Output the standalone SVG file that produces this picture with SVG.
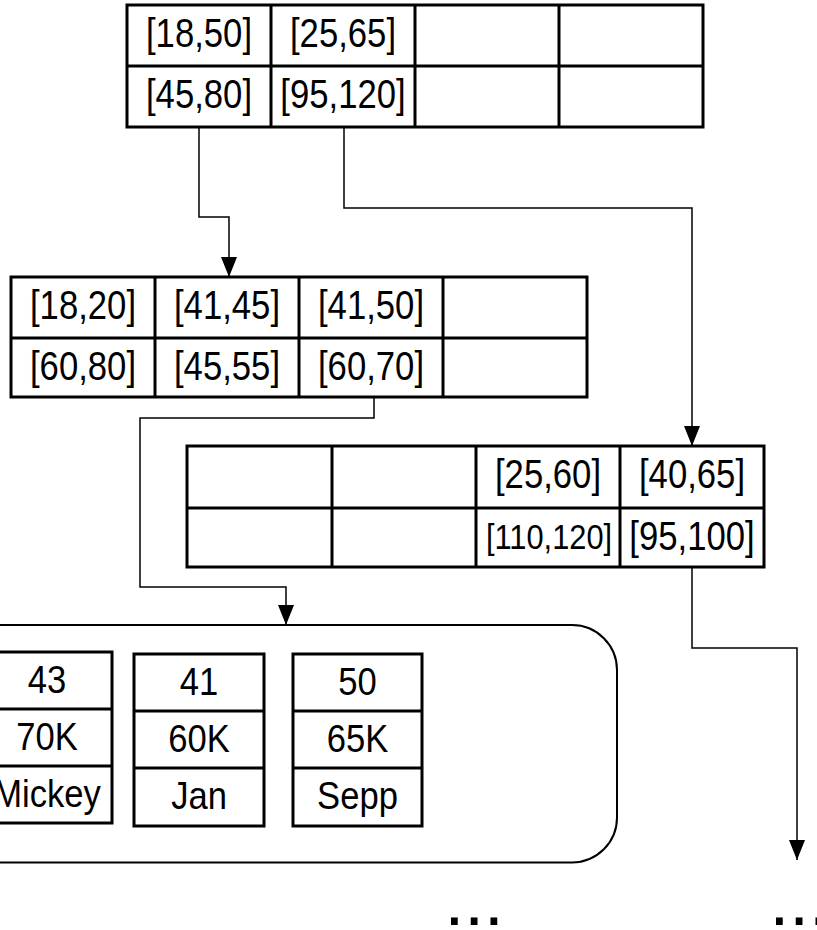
<svg xmlns="http://www.w3.org/2000/svg" width="817" height="930" viewBox="0 0 817 930">
  <style>
    .cell { fill: #fff; stroke: #000; stroke-width: 3; }
    .grid { stroke: #000; stroke-width: 3; fill: none; }
    .conn { stroke: #000; stroke-width: 1.5; fill: none; }
    .box  { fill: #fff; stroke: #000; stroke-width: 2; }
    .lbl  { font-family: "Liberation Sans", Arial, sans-serif; font-size: 41px; fill: #000; text-anchor: middle; }
    .lbl-s { font-family: "Liberation Sans", Arial, sans-serif; font-size: 35px; fill: #000; text-anchor: middle; }
    .rec  { font-family: "Liberation Sans", Arial, sans-serif; font-size: 38px; fill: #000; text-anchor: middle; }
    .dots { font-family: "Liberation Sans", Arial, sans-serif; font-size: 71px; fill: #000; }
  </style>
  <defs>
    <marker id="arrow" viewBox="0 -8 20 16" refX="20" refY="0" markerWidth="20" markerHeight="16" markerUnits="userSpaceOnUse" orient="auto">
      <path d="M0,-8 L20,0 L0,8 z" fill="#000"/>
    </marker>
  </defs>

  <!-- leaf page container -->
  <g id="leaf-page">
    <rect class="box" x="-100" y="625" width="717" height="237.5" rx="45" ry="45"/>
  </g>

  <!-- connectors -->
  <g id="connectors">
    <path class="conn" d="M199,127 V217 H229 V277" marker-end="url(#arrow)"/>
    <path class="conn" d="M344,127 V208 H692 V446" marker-end="url(#arrow)"/>
    <path class="conn" d="M374,397 V418 H140 V587 H286 V625" marker-end="url(#arrow)"/>
    <path class="conn" d="M692,567 V648 H797 V860" marker-end="url(#arrow)"/>
  </g>

  <!-- root node -->
  <g id="root-node">
    <rect class="cell" x="127" y="5" width="576" height="122"/>
    <path class="grid" d="M127,66 H703 M271,5 V127 M415,5 V127 M559,5 V127"/>
    <text class="lbl" transform="translate(199,47) scale(0.846,1)">[18,50]</text>
    <text class="lbl" transform="translate(343,47) scale(0.846,1)">[25,65]</text>
    <text class="lbl" transform="translate(199,108) scale(0.846,1)">[45,80]</text>
    <text class="lbl" transform="translate(343,108) scale(0.846,1)">[95,120]</text>
  </g>

  <!-- inner node, left -->
  <g id="inner-node-left">
    <rect class="cell" x="11" y="277" width="576" height="120"/>
    <path class="grid" d="M11,338 H587 M155,277 V397 M299,277 V397 M443,277 V397"/>
    <text class="lbl" transform="translate(83,319) scale(0.846,1)">[18,20]</text>
    <text class="lbl" transform="translate(227,319) scale(0.846,1)">[41,45]</text>
    <text class="lbl" transform="translate(371,319) scale(0.846,1)">[41,50]</text>
    <text class="lbl" transform="translate(83,380) scale(0.846,1)">[60,80]</text>
    <text class="lbl" transform="translate(227,380) scale(0.846,1)">[45,55]</text>
    <text class="lbl" transform="translate(371,380) scale(0.846,1)">[60,70]</text>
  </g>

  <!-- inner node, right -->
  <g id="inner-node-right">
    <rect class="cell" x="187" y="446" width="577" height="121"/>
    <path class="grid" d="M187,508 H764 M332,446 V567 M476,446 V567 M620,446 V567"/>
    <text class="lbl" transform="translate(548,488) scale(0.846,1)">[25,60]</text>
    <text class="lbl" transform="translate(692,488) scale(0.846,1)">[40,65]</text>
    <text class="lbl-s" transform="translate(549,549) scale(0.88,1)">[110,120]</text>
    <text class="lbl" transform="translate(692,550) scale(0.846,1)">[95,100]</text>
  </g>

  <!-- records -->
  <g id="record-mickey">
    <rect class="cell" x="-18" y="652" width="130" height="171"/>
    <path class="grid" d="M-18,709 H112 M-18,766 H112"/>
    <text class="rec" transform="translate(47,693) scale(0.91,1)">43</text>
    <text class="rec" transform="translate(47,750) scale(0.91,1)">70K</text>
    <text class="rec" transform="translate(47,807) scale(0.91,1)">Mickey</text>
  </g>
  <g id="record-jan">
    <rect class="cell" x="134" y="654" width="130" height="172"/>
    <path class="grid" d="M134,711 H264 M134,768 H264"/>
    <text class="rec" transform="translate(199,695) scale(0.91,1)">41</text>
    <text class="rec" transform="translate(199,752) scale(0.91,1)">60K</text>
    <text class="rec" transform="translate(199,809) scale(0.91,1)">Jan</text>
  </g>
  <g id="record-sepp">
    <rect class="cell" x="293" y="654" width="129" height="172"/>
    <path class="grid" d="M293,711 H422 M293,768 H422"/>
    <text class="rec" transform="translate(357.5,695) scale(0.91,1)">50</text>
    <text class="rec" transform="translate(357.5,752) scale(0.91,1)">65K</text>
    <text class="rec" transform="translate(357.5,809) scale(0.91,1)">Sepp</text>
  </g>

  <!-- continuation marks -->
  <g id="more-left"><text class="dots" x="444.5" y="925">...</text></g>
  <g id="more-right"><text class="dots" x="769.5" y="925">...</text></g>
</svg>
